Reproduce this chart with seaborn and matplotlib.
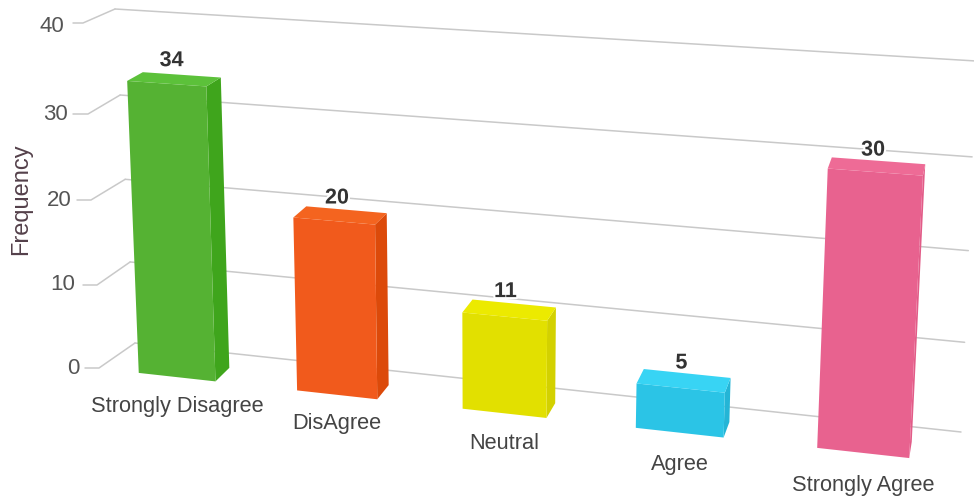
import numpy as np
import pandas as pd
import seaborn as sns
import matplotlib
matplotlib.use("Agg")
import matplotlib.pyplot as plt
import matplotlib.patheffects as pe
from matplotlib import transforms as mtrans
from matplotlib.patches import Polygon
from matplotlib.lines import Line2D

# ---- data ----
categories = ["Strongly Disagree", "DisAgree", "Neutral", "Agree", "Strongly Agree"]
frequency = [34, 20, 11, 5, 30]
y_ticks = [0, 10, 20, 30, 40]
front_colors = ["#55B233", "#F15A1C", "#E2E000", "#2BC4E6", "#E8628F"]
side_colors = ["#3FA51C", "#DC4A0A", "#D3D100", "#24B5D6", "#E25C88"]
top_colors = ["#5CC13A", "#F4641F", "#ECEA00", "#38D4F4", "#EE6B96"]

W, H = 974, 501
BAR_WIDTH = 0.49

# ---- camera calibration: (bar index, edge sign, value, depth) -> picture pixel ----
cal_world = [
    (0,-1,34,0),(0,1,34,0),(0,-1,34,1),(0,1,34,1),(0,-1,0,0),(0,1,0,0),(0,1,0,1),
    (1,-1,20,0),(1,1,20,0),(1,-1,20,1),(1,1,20,1),(1,-1,0,0),(1,1,0,0),(1,1,0,1),
    (2,-1,11,0),(2,1,11,0),(2,-1,11,1),(2,1,11,1),(2,-1,0,0),(2,1,0,0),(2,1,0,1),
    (3,-1,5,0),(3,1,5,0),(3,-1,5,1),(3,1,5,1),(3,-1,0,0),(3,1,0,0),(3,1,0,1),
    (4,-1,30,0),(4,1,30,0),(4,-1,30,1),(4,1,30,1),(4,-1,0,0),(4,1,0,0),
]
cal_pixel = [
    (127,81),(207,87),(143,72),(220,79),(139,374),(216,382),(230,367),
    (292,215),(376,222),(305,207),(386,214),(297,392),(377,400),(388,383),
    (462,313),(548,320),(475,299),(557,307),(462,408),(547,418),(555,405),
    (636,383),(725,392),(645,368),(730,377),(635,427),(723,438),(728,425),
    (828,170),(923,177),(832,157),(925,163),(818,448),(909,458),
]

def fit_camera(world, pixel):
    rows = []
    for (i, s, y, z), (u, v) in zip(world, pixel):
        x = i + s * BAR_WIDTH / 2
        p = [x, y, z, 1]
        rows.append(p + [0, 0, 0, 0] + [-u * c for c in p])
        rows.append([0, 0, 0, 0] + p + [-v * c for c in p])
    A = np.array(rows, float)
    scale = np.abs(A).max(axis=0)
    scale[scale == 0] = 1
    _, _, vt = np.linalg.svd(A / scale)
    return (vt[-1] / scale).reshape(3, 4)

CAM = fit_camera(cal_world, cal_pixel)

def project(x, y, z=0.0):
    x, y = np.asarray(x, float), np.asarray(y, float)
    q = CAM @ np.vstack([x, y, np.full_like(x, z), np.ones_like(x)])
    return (q[:2] / q[2]).T

def homography(src, dst):
    rows = []
    for (x, y), (u, v) in zip(src, dst):
        rows.append([x, y, 1, 0, 0, 0, -u*x, -u*y, -u])
        rows.append([0, 0, 0, x, y, 1, -v*x, -v*y, -v])
    A = np.array(rows, float)
    _, _, vt = np.linalg.svd(A)
    return vt[-1].reshape(3, 3)

def hom_apply(M, x, y):
    q = M @ np.array([x, y, 1.0])
    return q[:2] / q[2]

class FrontFace(mtrans.Transform):
    input_dims = output_dims = 2
    is_separable = False
    has_inverse = False
    def transform_non_affine(self, values):
        values = np.asarray(values, float)
        return project(values[:, 0], values[:, 1], 0.0)

# ---- figure ----
sns.set_theme(style="white")
plt.rcParams["font.family"] = ["Liberation Sans", "DejaVu Sans"]
fig = plt.figure(figsize=(W / 100, H / 100), dpi=100)
ax = fig.add_axes([0, 0, 1, 1])
df = pd.DataFrame({"category": categories, "frequency": frequency})
sns.barplot(data=df, x="category", y="frequency", hue="category", palette=front_colors,
            saturation=1, width=BAR_WIDTH, legend=False, ax=ax, linewidth=0, zorder=3)
ax.set_xlim(-0.5, 4.5)
ax.set_ylim(0, 40)
ax.axis("off")

px = mtrans.Affine2D().scale(1 / W, -1 / H).translate(0, 1) + fig.transFigure

# ---- wall geometry (back wall and left side wall) ----
back_wall = homography([(0, 0), (0, 40), (1, 0), (1, 40)],
                       [(135, 343), (115, 9), (961, 432), (976, 61)])
side_wall_front = [(99, 368), (97, 285), (91, 200), (88, 114), (83, 23)]
tick_left = [85, 83, 77, 73, 73]
label_right = [80, 75, 72, 68, 64]
label_y = [369, 285, 201, 114, 26]
bar_label_dx = [5, 3, 1, 1, -2]
bar_label_dy = [-23, -23, -25, -25, -22]
cat_label_dy = [29, 29, 30, 32, 33]

GRID = "#C9C9C9"
for k, t in enumerate(y_ticks):
    a = hom_apply(back_wall, 0, t)
    b = hom_apply(back_wall, 1, t)
    f = side_wall_front[k]
    ax.add_line(Line2D([a[0], b[0]], [a[1], b[1]], transform=px, color=GRID, lw=1.1,
                       zorder=1, clip_on=False))
    ax.add_line(Line2D([tick_left[k], f[0], a[0]], [f[1], f[1], a[1]], transform=px,
                       color=GRID, lw=1.1, zorder=1, clip_on=False))
    ax.text(label_right[k], label_y[k], str(t), transform=px, ha="right", va="center",
            fontsize=16, color="#555555", zorder=6)

# ---- bars: seaborn's front faces, projected, plus top and side faces ----
front = FrontFace() + px
bars = [p for p in ax.patches]
for i, bar in enumerate(bars):
    bar.set_transform(front)
    bar.set_clip_on(False)
    x0, x1 = bar.get_x(), bar.get_x() + bar.get_width()
    v = bar.get_height()
    c = lambda x, y, z: project([x], [y], z)[0]
    side = [c(x1, 0, 0), c(x1, v, 0), c(x1, v, 1), c(x1, 0, 1)]
    top = [c(x0, v, 0), c(x1, v, 0), c(x1, v, 1), c(x0, v, 1)]
    ax.add_patch(Polygon(side, closed=True, transform=px, fc=side_colors[i], ec="none",
                         zorder=2.9, clip_on=False))
    ax.add_patch(Polygon(top, closed=True, transform=px, fc=top_colors[i], ec="none",
                         zorder=3.1, clip_on=False))
    mid = (x0 + x1) / 2
    tx, ty = c(mid, v, 0)
    ax.text(tx + bar_label_dx[i], ty + bar_label_dy[i], str(frequency[i]), transform=px,
            ha="center", va="center", fontsize=15.5, fontweight="bold", color="#333333",
            zorder=7, path_effects=[pe.withStroke(linewidth=3, foreground="white")])
    bx, by = c(mid, 0, 0)
    ax.text(bx, by + cat_label_dy[i], categories[i], transform=px, ha="center", va="center",
            fontsize=15.7, color="#444444", zorder=7)

ax.text(21, 199, "Frequency", transform=px, rotation=90, ha="center", va="center",
        fontsize=17, color="#54404A", zorder=7)

fig.savefig("out.png", dpi=100, facecolor="white")
